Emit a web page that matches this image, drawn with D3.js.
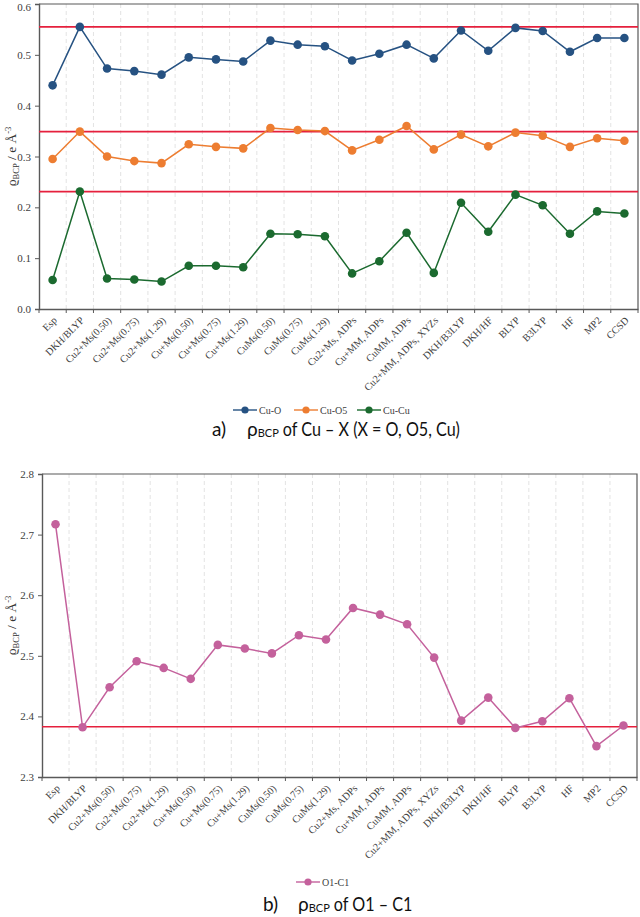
<!DOCTYPE html>
<html>
<head>
<meta charset="utf-8">
<script src="https://cdn.jsdelivr.net/npm/d3@7"></script>
<style>
  body { margin: 0; background: #fff; }
  svg { display: block; }
</style>
</head>
<body>
<div id="chart"></div>
<script>
// categories (same for both panels)
var categories = ["Esp", "DKH/BLYP", "Cu2+Ms(0.50)", "Cu2+Ms(0.75)", "Cu2+Ms(1.29)",
  "Cu+Ms(0.50)", "Cu+Ms(0.75)", "Cu+Ms(1.29)", "CuMs(0.50)", "CuMs(0.75)", "CuMs(1.29)",
  "Cu2+Ms, ADPs", "Cu+MM, ADPs", "CuMM, ADPs", "Cu2+MM, ADPs, XYZs", "DKH/B3LYP",
  "DKH/HF", "BLYP", "B3LYP", "HF", "MP2", "CCSD"];

// panel a) values
var cuO  = [0.440, 0.555, 0.473, 0.468, 0.461, 0.495, 0.491, 0.487, 0.528, 0.520, 0.517,
            0.489, 0.502, 0.520, 0.493, 0.548, 0.508, 0.553, 0.547, 0.506, 0.533, 0.533];
var cuO5 = [0.295, 0.349, 0.300, 0.291, 0.287, 0.324, 0.319, 0.316, 0.356, 0.352, 0.350,
            0.312, 0.333, 0.360, 0.314, 0.343, 0.320, 0.347, 0.341, 0.319, 0.336, 0.331];
var cuCu = [0.057, 0.231, 0.060, 0.058, 0.054, 0.085, 0.085, 0.082, 0.148, 0.147, 0.143,
            0.070, 0.094, 0.150, 0.071, 0.209, 0.152, 0.225, 0.204, 0.148, 0.192, 0.188];
var refA = [0.555, 0.349, 0.231];
var ticksA = [0.0, 0.1, 0.2, 0.3, 0.4, 0.5, 0.6];

// panel b) values
var o1c1 = [2.717, 2.382, 2.448, 2.491, 2.480, 2.462, 2.518, 2.512, 2.504, 2.534, 2.527,
            2.579, 2.568, 2.552, 2.497, 2.393, 2.431, 2.381, 2.392, 2.430, 2.351, 2.385];
var refB = [2.383];
var ticksB = [2.3, 2.4, 2.5, 2.6, 2.7, 2.8];

var width = 640, height = 917;
var serif = "'Liberation Serif', 'Times New Roman', serif";
var sans = "Lato, 'Open Sans', sans-serif";
var axisColor = "#595959";
var red = "#e5203d";

var svg = d3.select("#chart").append("svg")
    .attr("width", width)
    .attr("height", height);

svg.append("rect").attr("width", width).attr("height", height).attr("fill", "#fff");

function drawPanel(p) {
  var x = d3.scaleBand().domain(categories).range([p.left, p.right]).padding(0);
  var y = d3.scaleLinear().domain(p.domain).range([p.bottom, p.top]);
  var cx = function(d) { return x(d) + x.bandwidth() / 2; };
  var g = svg.append("g");

  // dashed vertical gridlines at category boundaries
  g.selectAll(".grid")
      .data(categories.slice(1))
    .enter().append("line")
      .attr("x1", function(d) { return x(d); })
      .attr("x2", function(d) { return x(d); })
      .attr("y1", p.top)
      .attr("y2", p.bottom)
      .attr("stroke", "#dcdcdc")
      .attr("stroke-width", 0.8)
      .attr("stroke-dasharray", "4,3");

  // frame (top + right)
  g.append("path")
      .attr("d", "M" + p.left + "," + p.top + "H" + p.right + "V" + p.bottom)
      .attr("fill", "none")
      .attr("stroke", axisColor)
      .attr("stroke-width", 1.2);

  // y axis
  var yAxis = g.append("g")
      .attr("transform", "translate(" + p.left + ",0)")
      .call(d3.axisLeft(y).tickValues(p.ticks).tickFormat(d3.format(".1f")).tickSize(4).tickPadding(4));
  yAxis.select(".domain").attr("stroke", axisColor).attr("stroke-width", 1.4);
  yAxis.selectAll(".tick line").attr("stroke", axisColor);
  yAxis.selectAll("text").attr("font-family", serif).attr("font-size", 11).attr("fill", "#404040");
  // keep a label that sits at the very top of the page inside it
  yAxis.selectAll(".tick")
      .filter(function(d) { return y(d) < 8; })
      .select("text").attr("dy", "0.55em");

  // x axis with ticks on band boundaries
  var xAxis = g.append("g")
      .attr("transform", "translate(0," + p.bottom + ")")
      .call(d3.axisBottom(x).tickSize(0));
  xAxis.select(".domain").attr("stroke", axisColor).attr("stroke-width", 1.4);
  xAxis.selectAll("text")
      .attr("font-family", serif)
      .attr("font-size", 10.2)
      .attr("fill", "#404040")
      .attr("x", 0).attr("y", 0).attr("dy", 0)
      .attr("transform", "translate(5,12) rotate(-45)")
      .style("text-anchor", "end");
  g.selectAll(".xtick")
      .data(categories.concat(["_end"]))
    .enter().append("line")
      .attr("x1", function(d, i) { return i < categories.length ? x(d) : p.right; })
      .attr("x2", function(d, i) { return i < categories.length ? x(d) : p.right; })
      .attr("y1", p.bottom)
      .attr("y2", p.bottom + 4)
      .attr("stroke", axisColor);

  // reference lines
  g.selectAll(".ref")
      .data(p.refs)
    .enter().append("line")
      .attr("x1", p.left)
      .attr("x2", p.right)
      .attr("y1", function(d) { return y(d); })
      .attr("y2", function(d) { return y(d); })
      .attr("stroke", red)
      .attr("stroke-width", 1.6);

  // series
  var line = d3.line()
      .x(function(d, i) { return cx(categories[i]); })
      .y(function(d) { return y(d); });
  p.series.forEach(function(s) {
    g.append("path")
        .datum(s.values)
        .attr("d", line)
        .attr("fill", "none")
        .attr("stroke", s.color)
        .attr("stroke-width", 1.5);
    g.selectAll(null)
        .data(s.values)
      .enter().append("circle")
        .attr("cx", function(d, i) { return cx(categories[i]); })
        .attr("cy", function(d) { return y(d); })
        .attr("r", 4.3)
        .attr("fill", s.color);
  });

  // y axis title
  var t = g.append("text")
      .attr("transform", "translate(" + p.titleX + "," + ((p.top + p.bottom) / 2) + ") rotate(-90)")
      .attr("text-anchor", "middle")
      .attr("font-family", serif)
      .attr("font-size", 13.5)
      .attr("fill", "#333");
  t.append("tspan").text("ϱ");
  t.append("tspan").attr("font-size", 8.5).attr("dy", 3).text("BCP");
  t.append("tspan").attr("dy", -3).text(" / e Å");
  t.append("tspan").attr("font-size", 8.5).attr("dy", -5).text("-3");

  // legend
  var lg = g.selectAll(".legend")
      .data(p.series)
    .enter().append("g")
      .attr("transform", function(d) { return "translate(" + d.lx + "," + p.legendY + ")"; });
  lg.append("line").attr("x1", 0).attr("x2", 24)
      .attr("stroke", function(d) { return d.color; }).attr("stroke-width", 1.4);
  lg.append("circle").attr("cx", 12).attr("r", 3.6)
      .attr("fill", function(d) { return d.color; });
  lg.append("text").attr("x", 26).attr("dy", "0.35em")
      .attr("font-family", serif).attr("font-size", 10).attr("fill", "#404040")
      .text(function(d) { return d.name; });

  // caption, narrowed to the reference's width
  var cap = g.append("g")
      .attr("font-family", sans)
      .attr("font-size", 19)
      .attr("fill", "#111");
  cap.append("text").attr("x", p.capX).attr("y", p.capY).text(p.capLabel);
  var rho = cap.append("text").attr("x", p.capX + 35).attr("y", p.capY);
  rho.append("tspan").text("ρ");
  rho.append("tspan").attr("font-size", 11).attr("dy", 1).text("BCP");
  var rhoEnd = p.capX + 35 + rho.node().getComputedTextLength();
  var rest = cap.append("text").attr("x", rhoEnd + 4).attr("y", p.capY).text(p.capText);
  rest.attr("textLength", rest.node().getComputedTextLength() * 0.85)
      .attr("lengthAdjust", "spacingAndGlyphs");
}

drawPanel({
  left: 39, right: 638, top: 4, bottom: 309,
  domain: [0, 0.6], ticks: ticksA, refs: refA, titleX: 16,
  series: [
    {name: "Cu-O", values: cuO, color: "#265282", lx: 233},
    {name: "Cu-O5", values: cuO5, color: "#ed7d31", lx: 294},
    {name: "Cu-Cu", values: cuCu, color: "#1b6a2f", lx: 357}
  ],
  legendY: 410,
  capX: 212, capY: 436, capLabel: "a)", capText: "of Cu – X (X = O, O5, Cu)"
});

drawPanel({
  left: 42, right: 637, top: 474, bottom: 777,
  domain: [2.3, 2.8], ticks: ticksB, refs: refB, titleX: 16,
  series: [
    {name: "O1-C1", values: o1c1, color: "#c4619c", lx: 296}
  ],
  legendY: 882,
  capX: 263, capY: 911, capLabel: "b)", capText: "of O1 – C1"
});
</script>
</body>
</html>
